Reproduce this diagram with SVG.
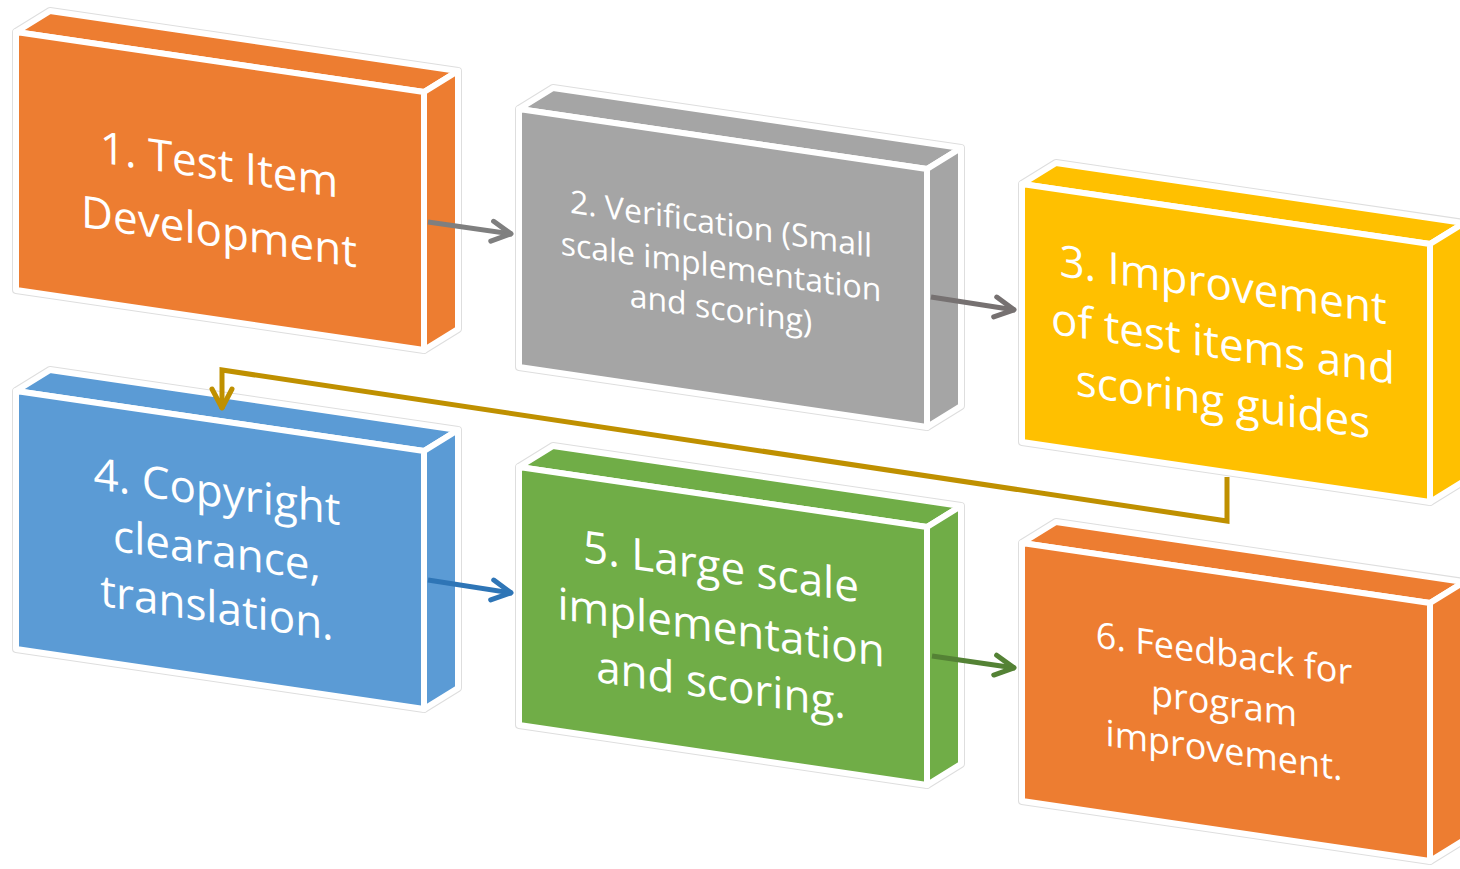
<svg xmlns="http://www.w3.org/2000/svg" width="1460" height="869" viewBox="0 0 1460 869">
<style>
.sil{fill:#fff;stroke:#dedede;stroke-width:8;stroke-linejoin:round}
.face{stroke:#fff;stroke-width:6;stroke-linejoin:round}
.orange{fill:#ED7D31}.gray{fill:#A5A5A5}.yellow{fill:#FFC000}.blue{fill:#5B9BD5}.green{fill:#70AD47}
.lbl{fill:#fff;font-family:"Open Sans","Noto Sans","Liberation Sans",sans-serif;text-anchor:middle}
.conn{fill:none;stroke-width:5;stroke-linejoin:miter}
</style>
<defs>
<marker id="mGray1" viewBox="-26 -14 32 28" refX="0" refY="0" markerWidth="32" markerHeight="28" markerUnits="userSpaceOnUse" orient="auto"><path d="M-20,-10 L-1,0 L-20,10" fill="none" stroke="#7F7F7F" stroke-width="5" stroke-linejoin="round" stroke-linecap="round"/></marker>
<marker id="mGray2" viewBox="-26 -14 32 28" refX="0" refY="0" markerWidth="32" markerHeight="28" markerUnits="userSpaceOnUse" orient="auto"><path d="M-20,-10 L-1,0 L-20,10" fill="none" stroke="#767171" stroke-width="5" stroke-linejoin="round" stroke-linecap="round"/></marker>
<marker id="mBlue" viewBox="-26 -14 32 28" refX="0" refY="0" markerWidth="32" markerHeight="28" markerUnits="userSpaceOnUse" orient="auto"><path d="M-20,-10 L-1,0 L-20,10" fill="none" stroke="#2E75B6" stroke-width="5" stroke-linejoin="round" stroke-linecap="round"/></marker>
<marker id="mGreen" viewBox="-26 -14 32 28" refX="0" refY="0" markerWidth="32" markerHeight="28" markerUnits="userSpaceOnUse" orient="auto"><path d="M-20,-10 L-1,0 L-20,10" fill="none" stroke="#548235" stroke-width="5" stroke-linejoin="round" stroke-linecap="round"/></marker>
<marker id="mGold" viewBox="-26 -14 32 28" refX="0" refY="0" markerWidth="32" markerHeight="28" markerUnits="userSpaceOnUse" orient="auto"><path d="M-20,-10 L-1,0 L-20,10" fill="none" stroke="#BF9000" stroke-width="5" stroke-linejoin="round" stroke-linecap="round"/></marker>
</defs>

<g id="node1">
<polygon class="sil" points="16,32 50,11 458,71 458,329 424,350 16,290"/>
<polygon class="face orange" points="16,32 50,11 458,71 424,92"/>
<polygon class="face orange" points="424,92 458,71 458,329 424,350"/>
<polygon class="face orange" points="16,32 424,92 424,350 16,290"/>
<text class="lbl" font-size="44" transform="translate(219,180) skewY(8.36)"><tspan x="0" y="0">1. Test Item</tspan><tspan x="0" y="67">Development</tspan></text>
</g>

<g id="node2">
<polygon class="sil" points="519,109 553,88 961,148 961,406 927,427 519,367"/>
<polygon class="face gray" points="519,109 553,88 961,148 927,169"/>
<polygon class="face gray" points="927,169 961,148 961,406 927,427"/>
<polygon class="face gray" points="519,109 927,169 927,427 519,367"/>
<text class="lbl" font-size="32" transform="translate(721,235) skewY(8.36)"><tspan x="0" y="0">2. Verification (Small</tspan><tspan x="0" y="43">scale implementation</tspan><tspan x="0" y="85">and scoring)</tspan></text>
</g>

<g id="node3">
<polygon class="sil" points="1022,184 1056,163 1464,223 1464,481 1430,502 1022,442"/>
<polygon class="face yellow" points="1022,184 1056,163 1464,223 1430,244"/>
<polygon class="face yellow" points="1430,244 1464,223 1464,481 1430,502"/>
<polygon class="face yellow" points="1022,184 1430,244 1430,502 1022,442"/>
<text class="lbl" font-size="44" transform="translate(1223,300) skewY(8.36)"><tspan x="0" y="0">3. Improvement</tspan><tspan x="0" y="59">of test items and</tspan><tspan x="0" y="117">scoring guides</tspan></text>
</g>

<g id="node4">
<polygon class="sil" points="16,391 50,370 458,430 458,688 424,709 16,649"/>
<polygon class="face blue" points="16,391 50,370 458,430 424,451"/>
<polygon class="face blue" points="424,451 458,430 458,688 424,709"/>
<polygon class="face blue" points="16,391 424,451 424,709 16,649"/>
<text class="lbl" font-size="44" transform="translate(217,507) skewY(8.36)"><tspan x="0" y="0">4. Copyright</tspan><tspan x="0" y="59">clearance,</tspan><tspan x="0" y="116">translation.</tspan></text>
</g>

<g id="node5">
<polygon class="sil" points="519,467 553,446 961,506 961,764 927,785 519,725"/>
<polygon class="face green" points="519,467 553,446 961,506 927,527"/>
<polygon class="face green" points="927,527 961,506 961,764 927,785"/>
<polygon class="face green" points="519,467 927,527 927,785 519,725"/>
<text class="lbl" font-size="44" transform="translate(721,582) skewY(8.36)"><tspan x="0" y="0">5. Large scale</tspan><tspan x="0" y="61">implementation</tspan><tspan x="0" y="118">and scoring.</tspan></text>
</g>

<g id="node6">
<polygon class="sil" points="1022,543 1056,522 1464,582 1464,840 1430,861 1022,801"/>
<polygon class="face orange" points="1022,543 1056,522 1464,582 1430,603"/>
<polygon class="face orange" points="1430,603 1464,582 1464,840 1430,861"/>
<polygon class="face orange" points="1022,543 1430,603 1430,861 1022,801"/>
<text class="lbl" font-size="36" transform="translate(1224,666) skewY(8.36)"><tspan x="0" y="0">6. Feedback for</tspan><tspan x="0" y="50">program</tspan><tspan x="0" y="97">improvement.</tspan></text>
</g>

<g id="connectors">
<path class="conn" stroke="#7F7F7F" d="M428,222 L512,234" marker-end="url(#mGray1)"/>
<path class="conn" stroke="#767171" d="M931,297 L1015,310" marker-end="url(#mGray2)"/>
<path class="conn" stroke="#2E75B6" d="M428,580 L512,593" marker-end="url(#mBlue)"/>
<path class="conn" stroke="#548235" d="M932,656 L1015,668" marker-end="url(#mGreen)"/>
<path class="conn" stroke="#BF9000" d="M1227,477 L1227,521 L222,370 L222,409" marker-end="url(#mGold)"/>
</g>
</svg>
